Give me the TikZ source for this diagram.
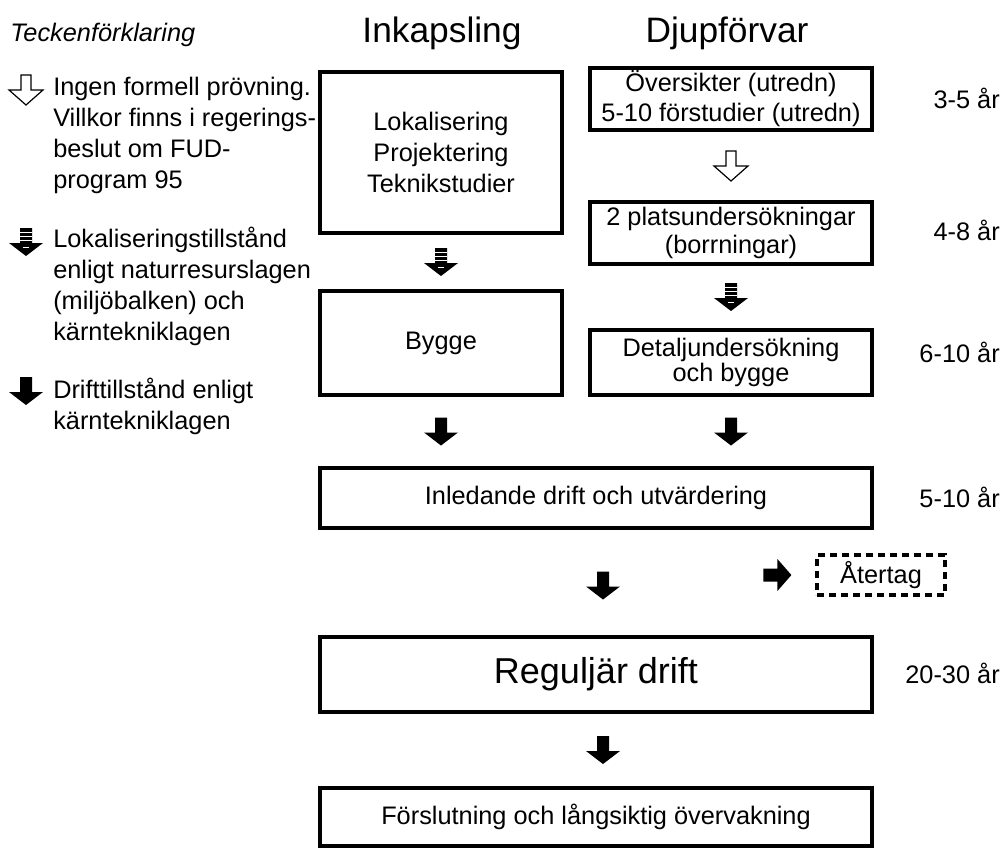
\documentclass[tikz,border=0pt]{standalone}
\usepackage{fontspec}
\setmainfont{Liberation Sans}
\usetikzlibrary{calc}
\newcommand\fsN{\fontsize{19}{23.25}\selectfont}
\newcommand\fsA{\fontsize{19}{23.25}\selectfont}
\newcommand\fsC{\fontsize{19}{22.5}\selectfont}
\newcommand\fsD{\fontsize{19}{21}\selectfont}
\newcommand\fsE{\fontsize{19}{17}\selectfont}
\newcommand\fsH{\fontsize{26.5}{30}\selectfont}
\newcommand\fsR{\fontsize{27}{30}\selectfont}
\tikzset{
  box/.style={draw, line width=2.4pt, inner sep=0pt, align=center, font=\fsN},
  wh/.style 2 args={minimum width=#1*0.75pt, minimum height=#2*0.75pt},
  lbl/.style={inner sep=0pt, font=\fsN},
  legend/.style={inner sep=0pt, font=\fsN, align=left, anchor=west},
  blackdown/.pic={\fill (-6,-14) -- (6,-14) -- (6,1) -- (17,1) -- (0,14) -- (-17,1) -- (-6,1) -- cycle;},
  blackright/.pic={\fill (-14,-6.5) -- (0,-6.5) -- (0,-16) -- (14,0) -- (0,16) -- (0,6.5) -- (-14,6.5) -- cycle;},
  hollowdown/.pic={\draw[line width=0.9pt, fill=white, line join=miter] (-5,-15) -- (5,-15) -- (5,0) -- (17,0) -- (0,15) -- (-17,0) -- (-5,0) -- cycle;},
  stripedown/.pic={\fill (-6,-14) -- (6,-14) -- (6,1) -- (17,1) -- (0,14) -- (-17,1) -- (-6,1) -- cycle;
     \draw[white, line width=0.6pt] (-6,-10) -- (6,-10) (-6,-6) -- (6,-6) (-6,-2) -- (6,-2) (-3,5) -- (3,5);},
}
\begin{document}
\begin{tikzpicture}[x=0.75pt,y=-0.75pt]
\fill[white] (0,0) rectangle (1002,850);
\useasboundingbox (0,0) rectangle (1002,850);

% headings
\node[inner sep=0pt, font=\itshape\fontsize{19}{20}\selectfont, anchor=west] (leg) at (10,35) {Teckenförklaring};
\node[inner sep=0pt, font=\fsH] (hinK) at (442,33) {Inkapsling};
\node[inner sep=0pt, font=\fsH] (hDj) at (727,33) {Djupförvar};

% legend
\coordinate (l1) at (26,90);
\coordinate (l2) at (26,242);
\coordinate (l3) at (26,391);
\pic at (l1) {hollowdown};
\pic at (l2) {stripedown};
\pic at (l3) {blackdown};
\node[legend] (t1) at (53,135) {Ingen formell prövning.\\Villkor finns i regerings-\\beslut om FUD-\\program 95};
\node[legend] (t2) at (53,286) {Lokaliseringstillstånd\\enligt naturresurslagen\\(miljöbalken) och\\kärntekniklagen};
\node[legend] (t3) at (53,406) {Drifttillstånd enligt\\kärntekniklagen};

% left column
\node[box, wh={242}{161}, font=\fsA] (lok) at (441,152.5) {Lokalisering\\Projektering\\Teknikstudier};
\node[box, wh={242}{104}] (byg) at (441,343) {Bygge};

% right column
\node[box, wh={282}{62}, font=\fsC] (ove) at (731,99) {Översikter (utredn)\\5-10 förstudier (utredn)};
\node[box, wh={282}{62}, font=\fsD] (pla) at (731,233) {2 platsundersökningar\\(borrningar)};
\node[box, wh={282}{65}, font=\fsE] (det) at (731,362.5) {Detaljundersökning\\och bygge};

% wide boxes
\node[box, wh={552}{60}] (inl) at (596,498) {Inledande drift och utvärdering};
\node[box, wh={552}{75}, font=\fsR] (reg) at (596,674.5) {Reguljär drift};
\node[box, wh={552}{58}] (for) at (596,817) {Förslutning och långsiktig övervakning};
\node[draw, dash pattern=on 5pt off 4pt, line width=2.4pt, inner sep=0pt, wh={128}{40}, font=\fsN] (ret) at (881,575) {Återtag};

% year labels
\node[lbl, anchor=east] (y1) at (1000,98) {3-5 år};
\node[lbl, anchor=east] (y2) at (1000,230) {4-8 år};
\node[lbl, anchor=east] (y3) at (1000,352) {6-10 år};
\node[lbl, anchor=east] (y4) at (1000,497) {5-10 år};
\node[lbl, anchor=east] (y5) at (1000,673) {20-30 år};

% connectors
\pic at ($(lok.south)!0.5!(byg.north)$) {stripedown};
\pic at ($(ove.south)!0.5!(pla.north)$) {hollowdown};
\pic at ($(pla.south)!0.5!(det.north)$) {stripedown};
\pic at ($(byg.south)!0.5!(byg.south |- inl.north)$) {blackdown};
\pic at ($(det.south)!0.5!(det.south |- inl.north)$) {blackdown};
\pic at ($(inl.south)!0.5!(reg.north)+(7,3)$) {blackdown};
\pic at ($(reg.south)!0.5!(for.north)+(7,0)$) {blackdown};
\pic at ($(ret.west)+(-38,0)$) {blackright};
\end{tikzpicture}
\end{document}
